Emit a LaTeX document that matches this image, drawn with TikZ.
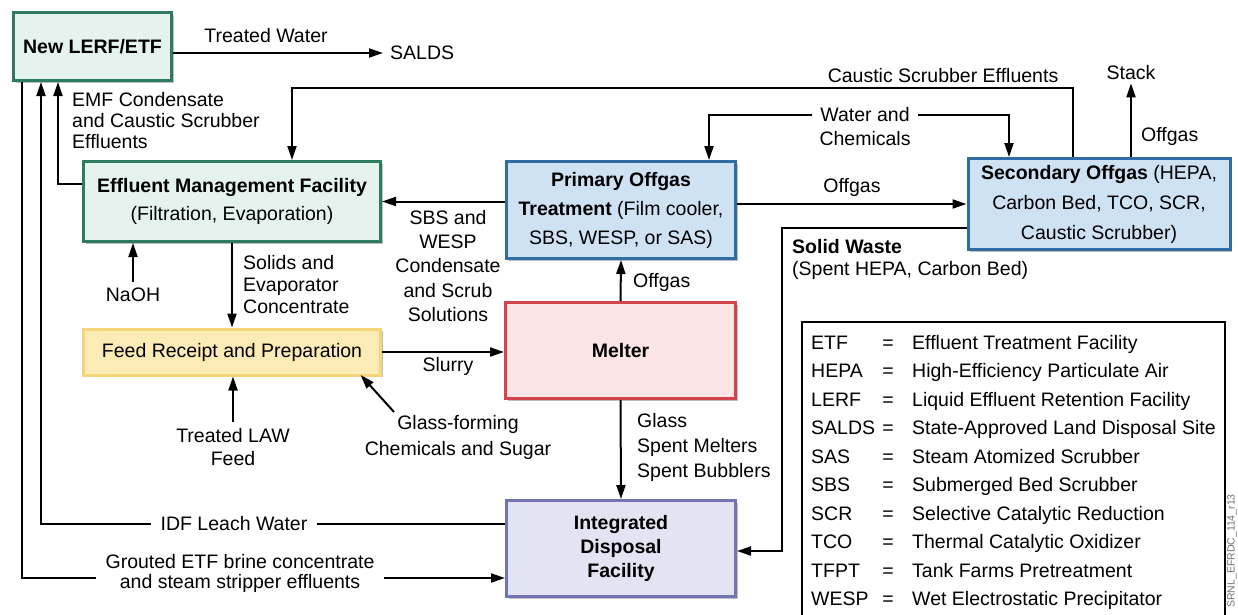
\documentclass[tikz,border=0pt]{standalone}
\usepackage{fontspec}
\setmainfont{Liberation Sans}
\usetikzlibrary{arrows.meta,shadows}

\definecolor{tealfill}{HTML}{E4F3EE}
\definecolor{tealedge}{HTML}{2E7B5E}
\definecolor{feedfill}{HTML}{FDEBB6}
\definecolor{feededge}{HTML}{F4D57C}
\definecolor{bluefill}{HTML}{CFE2F3}
\definecolor{blueedge}{HTML}{2F6DA3}
\definecolor{pinkfill}{HTML}{FDE4E5}
\definecolor{pinkedge}{HTML}{D2434C}
\definecolor{lavfill}{HTML}{E3E3F3}
\definecolor{lavedge}{HTML}{7474B2}

\begin{document}
\begin{tikzpicture}[x=1pt,y=-1pt,
  every node/.style={inner sep=0pt},
  lab/.style={font=\fontsize{19.5}{22}\selectfont, align=center},
  facility/.style={draw, line width=3pt, align=center,
    font=\fontsize{19.5}{24}\selectfont,
    drop shadow={shadow xshift=2pt, shadow yshift=-2pt, opacity=0.25, fill=black}},
  flow/.style={line width=2pt, -{Triangle[length=14pt,width=9pt]}},
  gap/.style={fill=white, inner xsep=10pt, inner ysep=2pt},
]
\useasboundingbox (0,0) rectangle (1238,614);
\fill[white] (0,0) rectangle (1238,614);

% ---------- facilities ----------
\node[facility, fill=tealfill, draw=tealedge, minimum width=158pt, minimum height=68pt] (lerf) at (92.5,46.5) {\textbf{New LERF/ETF}};
\node[facility, fill=tealfill, draw=tealedge, minimum width=297pt, minimum height=80pt, font=\fontsize{19.5}{28}\selectfont] (emf) at (232,201.5) {\textbf{Effluent Management Facility}\\(Filtration, Evaporation)};
\node[facility, fill=feedfill, draw=feededge, minimum width=297pt, minimum height=46pt] (feed) at (232,352) {Feed Receipt and Preparation};
\node[facility, fill=bluefill, draw=blueedge, minimum width=229pt, minimum height=97pt, font=\fontsize{19.5}{29}\selectfont] (pot) at (621,210) {\textbf{Primary Offgas}\\\textbf{Treatment} (Film cooler,\\SBS, WESP, or SAS)};
\node[facility, fill=bluefill, draw=blueedge, minimum width=262pt, minimum height=91pt, font=\fontsize{19.5}{30}\selectfont] (sog) at (1099,204) {\textbf{Secondary Offgas} (HEPA,\\Carbon Bed, TCO, SCR,\\Caustic Scrubber)};
\node[facility, fill=pinkfill, draw=pinkedge, minimum width=230pt, minimum height=96pt] (melter) at (620.5,350.5) {\textbf{Melter}};
\node[facility, fill=lavfill, draw=lavedge, minimum width=229pt, minimum height=96pt] (idf) at (621,548.5) {\textbf{Integrated}\\\textbf{Disposal}\\\textbf{Facility}};

% ---------- treated water to SALDS ----------
\node[lab, anchor=west] (salds) at (390,53) {SALDS};
\draw[flow] (lerf.east |- salds.west) -- ([xshift=-7pt]salds.west);
\node[lab] (tw) at (266,36) {Treated Water};

% ---------- caustic scrubber effluents ----------
\coordinate (csbend) at (1073,88);
\draw[flow] (sog.north -| csbend) -- (csbend) -| ([xshift=60pt]emf.north);
\node[lab] (cslab) at (943,76) {Caustic Scrubber Effluents};

% ---------- water and chemicals ----------
\node[lab, font=\fontsize{19.5}{24}\selectfont] (water) at (865,127) {Water and\\Chemicals};
\coordinate (wl) at (812,115);
\coordinate (wr) at (918,115);
\draw[flow] (wl) -| ([xshift=88pt]pot.north);
\draw[flow] (wr) -| ([xshift=-90pt]sog.north);

% ---------- offgas path ----------
\draw[flow] (pot.east |- sog.west) -- (sog.west);
\node[lab] (og1) at (852,187) {Offgas};
\draw[flow] (melter.north) -- (pot.south);
\node[lab, anchor=west] (og2) at (633,282) {Offgas};
\node[lab] (stack) at (1131,73) {Stack};
\draw[flow] (sog.north -| stack.south) -- ([yshift=-3pt]stack.south);
\node[lab, anchor=west] (og3) at (1141,136) {Offgas};

% ---------- condensate back to EMF ----------
\draw[flow] (pot.west |- emf.east) -- (emf.east);
\node[lab, font=\fontsize{19.5}{24.3}\selectfont] (sbs) at (448,266) {SBS and\\WESP\\Condensate\\and Scrub\\Solutions};

% ---------- feed and melter ----------
\draw[flow] (feed.east) -- (melter.west |- feed.east);
\node[lab] (slurry) at (448,366) {Slurry};
\draw[flow] (melter.south) -- (idf.north);
\node[lab, anchor=west, align=left, font=\fontsize{19.5}{25}\selectfont] (glassout) at (637,447) {Glass\\Spent Melters\\Spent Bubblers};

\draw[flow] (emf.south) -- (feed.north);
\node[lab, anchor=west, align=left] (solids) at (243,285) {Solids and\\Evaporator\\Concentrate};

\node[lab] (naoh) at (133,295) {NaOH};
\draw[flow] ([yshift=6pt]naoh.north) -- (naoh.north |- emf.south);

\node[lab, font=\fontsize{19.5}{23}\selectfont] (law) at (233,447) {Treated LAW\\Feed};
\draw[flow] ([yshift=6pt]law.north) -- (law.north |- feed.south);

\node[lab, font=\fontsize{19.5}{26}\selectfont] (gf) at (458,437) {Glass-forming\\Chemicals and Sugar};
\coordinate (gfstart) at (394,412);
\draw[flow, shorten >=-2pt] (gfstart) -- ([xshift=-20pt]feed.south east);

% ---------- solid waste ----------
\coordinate (swbend) at (782,551);
\draw[flow] ([yshift=-24pt]sog.west) -| (swbend) -- (idf.east |- swbend);
\node[lab, anchor=west] (swt) at (792,247) {\textbf{Solid Waste}};
\node[lab, anchor=west] (swd) at (792,270) {(Spent HEPA, Carbon Bed)};

% ---------- returns to New LERF/ETF ----------
\draw[flow] ([yshift=17.5pt]emf.west) -| ([xshift=-34.5pt]lerf.south);
\node[lab, anchor=north west, align=left, font=\fontsize{19.5}{21}\selectfont] (emfc) at (72,92) {EMF Condensate\\and Caustic Scrubber\\Effluents};

\draw[flow] ([yshift=24.5pt]idf.west) -| ([xshift=-51.5pt]lerf.south);
\node[lab, gap] (leach) at (234,524) {IDF Leach Water};

\draw[flow] ([xshift=-70.5pt]lerf.south) |- ([yshift=-29.5pt]idf.west);
\node[lab, gap, font=\fontsize{19.5}{20}\selectfont] (grout) at (240,573) {Grouted ETF brine concentrate\\and steam stripper effluents};

% ---------- abbreviations ----------
\draw[line width=2.5pt] (802,622) -- (802,322) -- (1225,322) -- (1225,622);
\foreach \ab/\df [count=\i from 0] in {ETF/Effluent Treatment Facility,
    HEPA/High-Efficiency Particulate Air,
    LERF/Liquid Effluent Retention Facility,
    SALDS/State-Approved Land Disposal Site,
    SAS/Steam Atomized Scrubber,
    SBS/Submerged Bed Scrubber,
    SCR/Selective Catalytic Reduction,
    TCO/Thermal Catalytic Oxidizer,
    TFPT/Tank Farms Pretreatment,
    WESP/Wet Electrostatic Precipitator}{
  \pgfmathsetmacro\yy{349+28.5*\i}
  \node[lab, anchor=base west] (abbr\i) at (811,\yy) {\ab};
  \node[lab, anchor=base] (eq\i) at (888,\yy) {=};
  \node[lab, anchor=base west] (def\i) at (912,\yy) {\df};
}

\node[rotate=90, font=\fontsize{10.5}{11}\selectfont, text=black!55] (docid) at (1232,551) {SRNL\_EFRDC\_114\_r13};
\end{tikzpicture}
\end{document}
